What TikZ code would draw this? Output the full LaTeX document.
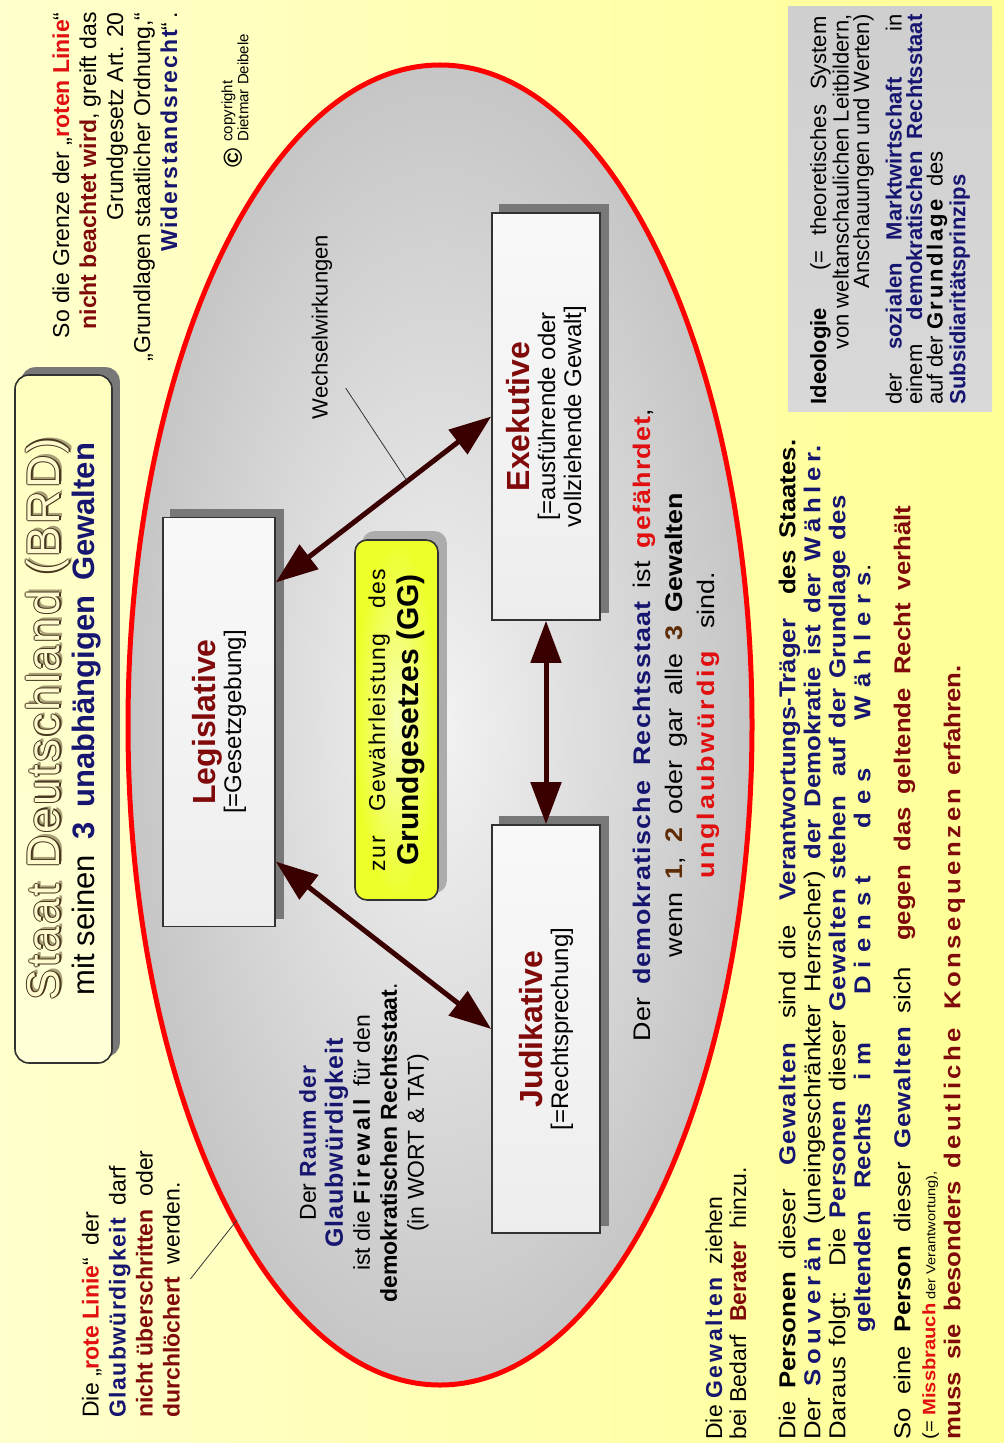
\documentclass[tikz,border=0pt]{standalone}
\usepackage{fontspec}
\setmainfont{Liberation Sans}
\usetikzlibrary{arrows.meta,calc}

\definecolor{navyc}{RGB}{22,22,112}
\definecolor{dredc}{RGB}{128,10,10}
\definecolor{bredc}{RGB}{225,15,15}
\definecolor{brownc}{RGB}{95,45,5}
\definecolor{arrowc}{RGB}{58,0,0}
\definecolor{bgleft}{RGB}{255,255,205}
\definecolor{bgright}{RGB}{255,255,150}
\definecolor{lineg}{RGB}{50,50,50}
\definecolor{shadowc}{RGB}{120,120,120}
\definecolor{ggyellow}{RGB}{236,255,40}
\definecolor{ttlline}{RGB}{70,55,30}
\definecolor{ttlfill}{RGB}{255,250,205}
\definecolor{ttlshade}{RGB}{170,160,120}

\pgfdeclarelayer{bg}
\pgfdeclarelayer{shd}
\pgfsetlayers{bg,shd,main}

% text helpers
\newcommand{\bk}[1]{{\bfseries #1}}
\newcommand{\ws}[2][5]{{\addfontfeature{LetterSpace=#1}#2}}
\newcommand{\nv}[1]{{\bfseries\color{navyc}#1}}
\newcommand{\nvw}[2][5]{{\bfseries\color{navyc}\addfontfeature{LetterSpace=#1}#2}}
\newcommand{\dr}[1]{{\bfseries\color{dredc}#1}}
\newcommand{\drw}[2][5]{{\bfseries\color{dredc}\addfontfeature{LetterSpace=#1}#2}}
\newcommand{\rd}[1]{{\bfseries\color{bredc}#1}}
\newcommand{\rdw}[2][5]{{\bfseries\color{bredc}\addfontfeature{LetterSpace=#1}#2}}
\newcommand{\brn}[1]{{\bfseries\color{brownc}#1}}
\newcommand{\fitln}[2]{\makebox[#1][s]{#2}}
\newcommand{\bxh}[1]{{\fontsize{16}{18}\selectfont\bfseries\color{dredc}#1}}
\newcommand{\ttxt}[1]{\leavevmode
  \rlap{\color{ttlshade}\hspace*{1.4pt}\raisebox{-1.4pt}{#1}}%
  \rlap{\color{ttlline}\hspace*{-.6pt}#1}%
  \rlap{\color{ttlline}\hspace*{.6pt}#1}%
  \rlap{\color{ttlline}\raisebox{.6pt}{#1}}%
  \rlap{\color{ttlline}\raisebox{-.6pt}{#1}}%
  {\color{ttlfill}#1}}

\begin{document}
\begin{tikzpicture}[x=0.5pt, y=-0.5pt,
  font=\fontsize{11.5}{13.5}\selectfont,
  txt/.style={rotate=90, inner sep=0pt, align=center},
  pbox/.style={rotate=90, draw=lineg, line width=0.8pt, top color=gray!5, bottom color=gray!14,
    inner sep=0pt, align=center, font=\fontsize{12}{13}\selectfont},
  titlebox/.style={rotate=90, draw=lineg, line width=0.8pt, rounded corners=7pt,
    top color=yellow!25!white, middle color=yellow!55!white, bottom color=yellow!15!white,
    inner sep=0pt, align=center, font=\fontsize{23}{17.5}\selectfont},
  ggbox/.style={rotate=90, draw=lineg, line width=0.8pt, rounded corners=6pt,
    inner color=ggyellow!35!white, outer color=ggyellow, inner sep=0pt, align=center,
    font=\fontsize{11.5}{16.5}\selectfont},
  ideobox/.style={rotate=90, top color=gray!38, middle color=gray!14, bottom color=gray!30,
    inner sep=0pt, align=left, font=\fontsize{11}{10.25}\selectfont},
  dbl/.style={{Triangle[length=21pt,width=15pt]}-{Triangle[length=21pt,width=15pt]},
    line width=2.5pt, draw=arrowc},
  lead/.style={draw=black!80, line width=0.4pt}]

\useasboundingbox (0,0) rectangle (1004,1443);

\begin{pgfonlayer}{bg}
  \shade[left color=bgleft, right color=bgright] (0,0) rectangle (1004,1443);
  \shade[inner color=gray!10, outer color=gray!45] (440,725) ellipse [x radius=156pt, y radius=330pt];
  \draw[red, line width=2.5pt] (440,725) ellipse [x radius=156pt, y radius=330pt];
\end{pgfonlayer}

% title
\node[titlebox, minimum width=344pt, minimum height=48.5pt] (ttl) at (63.5,719)
  {\ttxt{\addfontfeature{LetterSpace=5}Staat Deutschland (BRD)}\\
   {\fontsize{15.5}{18}\selectfont\fitln{276pt}{mit seinen \ \nv{3 \ unabhängigen \ Gewalten}}}};

% the three powers
\node[pbox, minimum width=204.5pt, minimum height=56pt] (leg) at (219,722)
  {\bxh{Legislative}\\ {[}=Gesetzgebung]};
\node[pbox, minimum width=203.5pt, minimum height=54pt] (exe) at (546,416.5)
  {\bxh{Exekutive}\\ {[}=ausführende oder\\ vollziehende Gewalt]};
\node[pbox, minimum width=204pt, minimum height=54pt] (jud) at (546,1029)
  {\bxh{Judikative}\\ {[}=Rechtsprechung]};

\node[ggbox, minimum width=180pt, minimum height=41.5pt] (gg) at (396.5,720)
  {\fitln{151pt}{\ws[6]{zur \ Gewährleistung \ des}}\\
   {\fontsize{15}{17}\selectfont\bfseries Grundgesetzes (GG)}};

\begin{pgfonlayer}{shd}
  \foreach \b in {leg,exe,jud}
    \fill[shadowc] ([shift={(4pt,4pt)}]\b.south west) rectangle ([shift={(4pt,4pt)}]\b.north east);
  \fill[shadowc, rounded corners=7pt] ([shift={(3.5pt,3.5pt)}]ttl.south west) rectangle ([shift={(3.5pt,3.5pt)}]ttl.north east);
  \fill[gray!65, rounded corners=6pt] ([shift={(4pt,4pt)}]gg.south west) rectangle ([shift={(4pt,4pt)}]gg.north east);
\end{pgfonlayer}

% arrows
\coordinate (legE) at ($(leg.south)!.68!(leg.south east)$);
\coordinate (legJ) at ($(leg.south)!.68!(leg.south west)$);
\draw[dbl] (legE) -- (exe.north);
\draw[dbl] (legJ) -- (jud.north);
\draw[dbl] (exe.west) -- (jud.east);

\node[txt, font=\fontsize{11}{13}\selectfont] (ww) at (322,327) {Wechselwirkungen};
\draw[lead] ([shift={(13,61)}]ww.south) -- ($(legE)!.61!(exe.north)$);

% texts inside the ellipse
\node[txt] (raum) at (364,1143)
  {Der \nvw[4]{Raum der}\\
   {\fontsize{12.5}{13.5}\selectfont\nvw[4]{Glaubwürdigkeit}}\\
   ist die \ws[12]{\bk{Firewall}} \ für den\\
   \bk{demokratischen Rechtsstaat}.\\
   (in WORT \& TAT)};

\node[txt, font=\fontsize{12}{16}\selectfont\addfontfeature{FakeStretch=1.12}] (dem) at (676,725)
  {\fitln{316pt}{Der \nvw{demokratische Rechtsstaat} ist \rdw{gefährdet},}\\
   \fitln{232pt}{wenn \brn{1}, \brn{2} oder gar alle \brn{3} \bk{Gewalten}}\\
   \fitln{153pt}{\rdw[12]{unglaubwürdig} \ sind.}};

% texts outside the ellipse
\node[txt, align=right, anchor=east] (grenze) at (115,12)
  {So die Grenze der „\rd{roten Linie}“\\
   \dr{nicht beachtet wird}, greift das\\
   Grundgesetz Art. 20\\
   „Grundlagen staatlicher Ordnung,“\\
   \nvw[8]{Widerstandsrecht}“\,.};

\node[txt, font=\fontsize{13}{13}\selectfont\bfseries] (cpy) at (233,158) {©};
\node[txt, align=left, anchor=west, font=\fontsize{7.5}{6.2}\selectfont] (cpt) at (235,142)
  {copyright\\ Dietmar Deibele};

\node[txt, align=left, anchor=west] (linie) at (131,1418)
  {Die „\rd{rote Linie}“ \ der\\
   \nvw[6]{Glaubwürdigkeit} \ darf\\
   \dr{nicht überschritten} \ oder\\
   \dr{durchlöchert} \ werden.};
\coordinate (rim) at (237,1220);
\draw[lead] ([shift={(10,-5)}]linie.south) -- (rim);

\node[txt, align=left, anchor=west, font=\fontsize{11.5}{12}\selectfont] (zieh) at (726,1440)
  {Die \nvw[12]{Gewalten} \ ziehen\\ bei Bedarf \ \dr{Berater} \ hinzu.};

\node[txt, align=left, anchor=west, font=\fontsize{11.5}{12.5}\selectfont\addfontfeature{FakeStretch=1.12}] (pers) at (872,1440)
  {\fitln{500pt}{Die \bk{Personen} dieser \ \nvw{Gewalten} \ sind die \ \nv{Verantwortungs-Träger} \ \bk{des Staates.}}\\
   \fitln{497pt}{Der \nvw[20]{Souverän} (uneingeschränkter Herrscher) \nv{der Demokratie ist der} \nvw[20]{Wähler}\nv{.}}\\
   \fitln{472pt}{Daraus folgt: \ Die \nv{Personen} dieser \nvw{Gewalten} \nv{stehen \ auf der Grundlage des}}\\
   \hspace*{53.5pt}\fitln{384pt}{\nv{geltenden Rechts} \nvw[35]{im Dienst des Wählers}.}\\[7.5pt]
   \fitln{467pt}{So eine \bk{Person} dieser \nvw{Gewalten} sich \ \dr{gegen das geltende Recht verhält}}\\
   {\fontsize{9}{10}\selectfont(= \rd{Missbrauch}\fontsize{6.5}{8}\selectfont\ der Verantwortung),}\\
   \fitln{387pt}{\dr{muss sie besonders} \drw[15]{deutliche Konsequenzen} \dr{erfahren.}}};

% ideology box
\node[ideobox, minimum width=202.5pt, minimum height=102pt] (ideo) at (890,209.5)
  {\fitln{194pt}{\bk{Ideologie} \quad (= theoretisches System}\\
   \makebox[195pt][r]{von weltanschaulichen Leitbildern,}\\
   \makebox[195pt][r]{Anschauungen und Werten)}\\[5pt]
   \fitln{195pt}{der \nv{sozialen Marktwirtschaft} \ in}\\
   \fitln{195pt}{einem \ \nv{demokratischen Rechtsstaat}}\\
   auf der \ws[12]{\bk{Grundlage}} \ des\\
   \nv{Subsidiaritätsprinzips}};
\end{tikzpicture}
\end{document}
